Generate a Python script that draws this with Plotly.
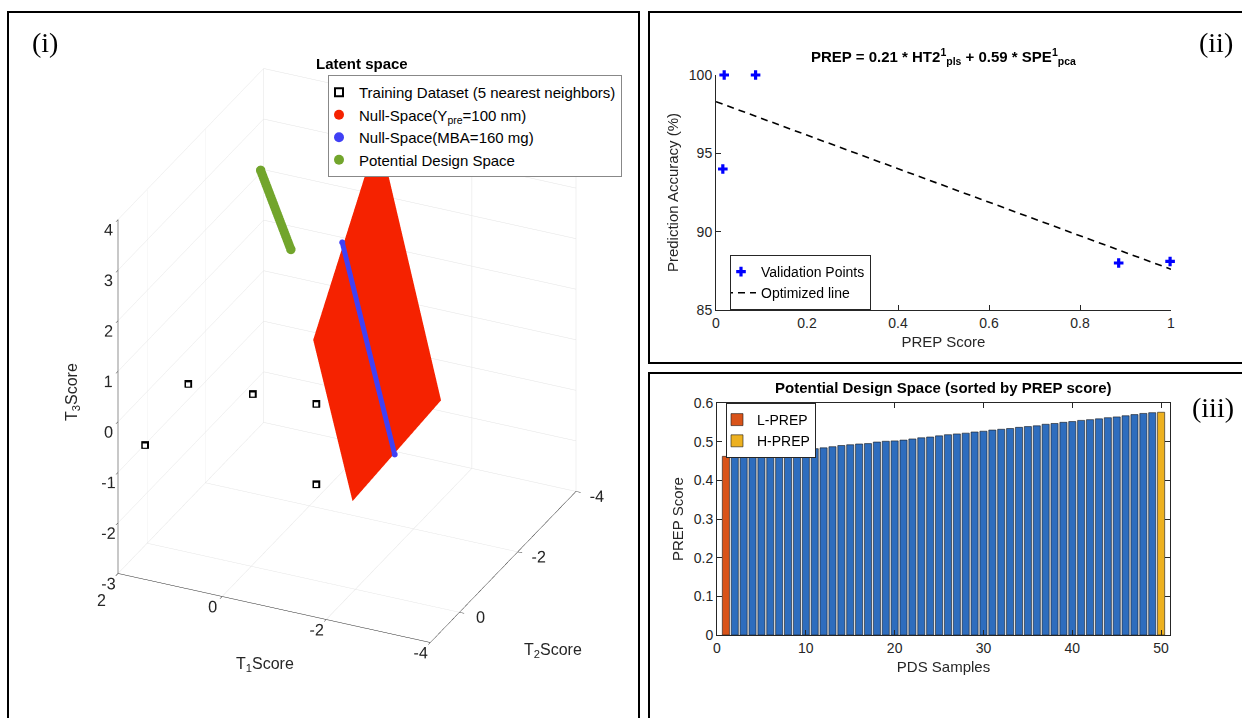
import plotly.graph_objects as go

W, H = 1242, 718
FONT = "Liberation Sans, Arial, sans-serif"
INK = "#262626"

# ---- (i) latent space: T1 / T2 / T3 scores ----
train_t1 = [1.76, 1.77, 0.81, -0.13, -1.25]
train_t2 = [0.50, -1.00, -1.50, -2.00, 0.00]
train_t3 = [-0.70, -0.39, -0.67, -0.95, -1.09]

# corners of the null-space plane for the target response
null_y_t1 = [-0.485, -2.630, -1.946, -0.630]
null_y_t2 = [-3.500, -1.815, 0.000, -1.000]
null_y_t3 = [3.590, -0.204, -1.270, 1.025]
plane_i = [0, 0]
plane_j = [1, 2]
plane_k = [2, 3]

# null-space line for the MBA constraint (lies on the plane)
null_mba_t1 = [-0.558, -2.296]
null_mba_t2 = [-2.125, -0.819]
null_mba_t3 = [2.265, -0.752]

# potential design space
pds_t1 = [1.50, 0.64]
pds_t2 = [-3.00, -2.50]
pds_t3 = [2.70, 1.63]

# 3-D tick values / labels
t1_ticks = [-4, -2, 0, 2]
t1_text = ["-4", "-2", "0", ""]   # the "2" label is placed separately below the corner
t2_ticks = [-4, -2, 0]
t2_text = ["-4", "-2", "0"]
t3_ticks = [-3, -2, -1, 0, 1, 2, 3, 4]
t3_text = ["-3", "-2", "-1", "0", "1", "2", "3", "4"]

# ---- (ii) validation ----
prep_val = [0.015, 0.018, 0.087, 0.885, 0.998]
acc_val = [94.0, 100.0, 100.0, 88.0, 88.1]
fit_x = [0.0, 1.0]
fit_y = [98.3, 87.6]

# ---- (iii) PDS samples sorted by PREP score ----
pds_index = list(range(1, 51))
pds_scores = [0.462, 0.463, 0.467, 0.468, 0.470, 0.472, 0.474, 0.475, 0.479, 0.481,
              0.482, 0.484, 0.487, 0.490, 0.492, 0.494, 0.495, 0.499, 0.501, 0.502,
              0.504, 0.507, 0.510, 0.512, 0.515, 0.518, 0.520, 0.522, 0.525, 0.527,
              0.530, 0.532, 0.534, 0.537, 0.539, 0.541, 0.545, 0.547, 0.550, 0.552,
              0.555, 0.557, 0.559, 0.562, 0.564, 0.567, 0.570, 0.573, 0.575, 0.576]

RED = "#F52200"
BLUE3D = "#4040F5"
GREEN = "#72A52C"
BAR_BLUE = "#2E6DBE"
L_COL = "#D95319"
H_COL = "#EDB120"

fig = go.Figure()

# ---------- panel (i) ----------
fig.add_trace(go.Mesh3d(
    x=null_y_t1, y=null_y_t2, z=null_y_t3, i=plane_i, j=plane_j, k=plane_k,
    color=RED, opacity=1.0, flatshading=True,
    lighting=dict(ambient=1.0, diffuse=0.0, specular=0.0, fresnel=0.0, roughness=1.0),
    showlegend=False, hoverinfo="skip", scene="scene"))
fig.add_trace(go.Scatter3d(
    x=null_mba_t1, y=null_mba_t2, z=null_mba_t3, mode="lines+markers",
    line=dict(color=BLUE3D, width=10), marker=dict(color=BLUE3D, size=3.5),
    showlegend=False, hoverinfo="skip", scene="scene"))
fig.add_trace(go.Scatter3d(
    x=pds_t1, y=pds_t2, z=pds_t3, mode="lines+markers",
    line=dict(color=GREEN, width=18), marker=dict(color=GREEN, size=5.5),
    showlegend=False, hoverinfo="skip", scene="scene"))
# training samples: thick-edged open squares (black square with a white core
# nudged slightly toward the camera so it is drawn on top)
fig.add_trace(go.Scatter3d(
    x=train_t1, y=train_t2, z=train_t3, mode="markers",
    marker=dict(symbol="square", size=4, color="black"),
    showlegend=False, hoverinfo="skip", scene="scene"))
fig.add_trace(go.Scatter3d(
    x=[v - 0.03 for v in train_t1], y=[v + 0.06 for v in train_t2],
    z=[v + 0.03 for v in train_t3], mode="markers",
    marker=dict(symbol="square", size=2.2, color="white"),
    showlegend=False, hoverinfo="skip", scene="scene"))

# legend keys
fig.add_trace(go.Scatter(x=[None], y=[None], mode="markers",
                         name="Training Dataset (5 nearest neighbors)",
                         marker=dict(color="white", size=8, symbol="square",
                                     line=dict(color="black", width=2)),
                         xaxis="x", yaxis="y", legend="legend"))
for nm, col in [("Null-Space(Y<sub>pre</sub>=100 nm)", RED),
                ("Null-Space(MBA=160 mg)", BLUE3D),
                ("Potential Design Space", GREEN)]:
    fig.add_trace(go.Scatter(x=[None], y=[None], mode="markers", name=nm,
                             marker=dict(color=col, size=10, symbol="circle"),
                             xaxis="x", yaxis="y", legend="legend"))

# ---------- panel (ii) ----------
fig.add_trace(go.Scatter(
    x=prep_val, y=acc_val, mode="markers", name="Validation Points",
    marker=dict(symbol="cross", size=8, color="#0000FF"),
    xaxis="x", yaxis="y", legend="legend2", cliponaxis=False))
fig.add_trace(go.Scatter(
    x=fit_x, y=fit_y, mode="lines", name="Optimized line",
    line=dict(color="black", width=1.6, dash="7px,5px"),
    xaxis="x", yaxis="y", legend="legend2"))

# ---------- panel (iii) ----------
fig.add_trace(go.Bar(
    x=pds_index[1:-1], y=pds_scores[1:-1], width=0.8, marker=dict(color=BAR_BLUE,
    line=dict(color="#1a1a1a", width=0.6)), showlegend=False, xaxis="x2", yaxis="y2"))
fig.add_trace(go.Bar(
    x=pds_index[:1], y=pds_scores[:1], width=0.8, name="L-PREP",
    marker=dict(color=L_COL, line=dict(color="#1a1a1a", width=0.6)),
    xaxis="x2", yaxis="y2", legend="legend3"))
fig.add_trace(go.Bar(
    x=pds_index[-1:], y=pds_scores[-1:], width=0.8, name="H-PREP",
    marker=dict(color=H_COL, line=dict(color="#1a1a1a", width=0.6)),
    xaxis="x2", yaxis="y2", legend="legend3"))

tick3d = dict(size=14, color=INK, family=FONT)
ax3d = dict(showbackground=False, gridcolor="#e3e3e3", gridwidth=1, zeroline=False,
            showline=True, linecolor=INK, linewidth=1, ticks="outside", ticklen=5,
            tickcolor=INK, tickfont=tick3d, showspikes=False, autorange=False,
            tickangle=0, tickmode="array", title=dict(text=""))

def ax2d(domain, rng, dtick, title, mirror):
    return dict(domain=domain, range=rng, dtick=dtick, showline=True, linecolor=INK,
                linewidth=1, ticks="inside", ticklen=5, tickcolor=INK, mirror=mirror,
                showgrid=False, zeroline=False, automargin=False,
                tickfont=dict(size=14, color=INK),
                title=dict(text=title, font=dict(size=15, color=INK), standoff=6))

fig.update_layout(
    width=W, height=H, margin=dict(l=0, r=0, t=0, b=0, autoexpand=False),
    paper_bgcolor="white", plot_bgcolor="white",
    font=dict(family=FONT, size=14, color=INK),
    barmode="overlay", showlegend=True,
    scene=dict(
        domain=dict(x=[58 / W, 636 / W], y=[15.5 / H, 710.5 / H]),
        xaxis=dict(ax3d, range=[-4, 2], tickvals=t1_ticks, ticktext=t1_text),
        yaxis=dict(ax3d, range=[-4, 1], tickvals=t2_ticks, ticktext=t2_text),
        zaxis=dict(ax3d, range=[-3, 4], tickvals=t3_ticks, ticktext=t3_text),
        aspectmode="manual", aspectratio=dict(x=0.99, y=1, z=1.16),
        camera=dict(eye=dict(x=-0.368 * 2.23, y=0.797 * 2.23, z=0.479 * 2.23),
                    up=dict(x=0, y=0, z=1), center=dict(x=0, y=0, z=0),
                    projection=dict(type="orthographic")),
        bgcolor="rgba(0,0,0,0)"),
    xaxis=ax2d([716 / W, 1171 / W], [0, 1], 0.2, "PREP Score", False),
    yaxis=ax2d([(H - 310) / H, (H - 75) / H], [85, 100], 5, "Prediction Accuracy (%)", False),
    xaxis2=dict(ax2d([717 / W, 1170 / W], [0, 51], 10, "PDS Samples", "ticks"), anchor="y2"),
    yaxis2=dict(ax2d([(H - 635) / H, (H - 403) / H], [0, 0.6], 0.1, "PREP Score", "ticks"),
                anchor="x2"),
    legend=dict(x=328 / W, y=(H - 75) / H, xanchor="left", yanchor="top",
                bgcolor="white", bordercolor="#888888", borderwidth=1, indentation=-10,
                font=dict(size=15, color="black"), tracegroupgap=0, itemwidth=30),
    legend2=dict(x=730 / W, y=(H - 255) / H, xanchor="left", yanchor="top",
                 bgcolor="white", bordercolor=INK, borderwidth=1, indentation=-10,
                 font=dict(size=14, color="black"), itemwidth=30),
    legend3=dict(x=726 / W, y=(H - 403) / H, xanchor="left", yanchor="top",
                 bgcolor="white", bordercolor=INK, borderwidth=1, indentation=-10,
                 font=dict(size=14, color="black"), itemwidth=30),
)
fig.update_layout(xaxis_anchor="y", yaxis_anchor="x")

# panel frames
frames = [(8, 639, 12, 730), (649, 1250, 12, 363), (649, 1250, 373, 730)]
for x0, x1, y0, y1 in frames:
    fig.add_shape(type="rect", xref="paper", yref="paper",
                  x0=x0 / W, x1=x1 / W, y0=(H - y1) / H, y1=(H - y0) / H,
                  line=dict(color="black", width=2), fillcolor="rgba(0,0,0,0)")

def note(text, x, y, size, bold=False, serif=False, angle=0, color="black"):
    fig.add_annotation(xref="paper", yref="paper", x=x / W, y=(H - y) / H,
                       text=f"<b>{text}</b>" if bold else text, showarrow=False,
                       textangle=angle,
                       font=dict(size=size, color=color,
                                 family="Liberation Serif, Times New Roman, serif" if serif else FONT),
                       xanchor="center", yanchor="middle")

note("(i)", 45, 42, 28, serif=True)
note("(ii)", 1216, 42, 28, serif=True)
note("(iii)", 1213, 407, 28, serif=True)
note("Latent space", 362, 63, 15, bold=True)
note("PREP = 0.21 * HT2<sup>1</sup><sub>pls</sub> + 0.59 * SPE<sup>1</sup><sub>pca</sub>", 943, 56, 15, bold=True)
note("Potential Design Space (sorted by PREP score)", 943, 387, 15, bold=True)

# 3-D axis titles and the corner tick label
note("T<sub>1</sub>Score", 265, 664, 16, color=INK)
note("T<sub>2</sub>Score", 553, 650, 16, color=INK)
note("T<sub>3</sub>Score", 72, 392, 16, angle=-90, color=INK)
note(str(t1_ticks[-1]), 101, 600, 16, color=INK)

fig.write_html("out.html")
